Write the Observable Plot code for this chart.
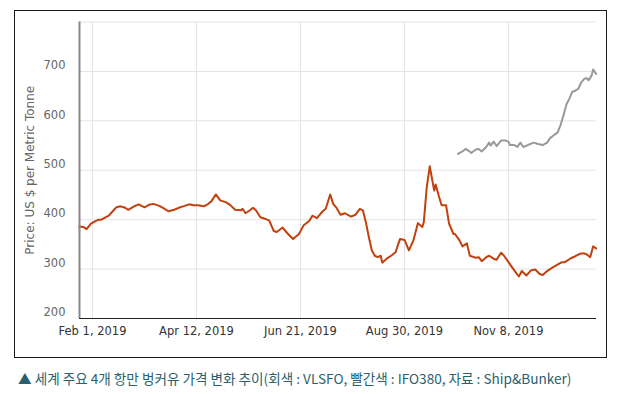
<!DOCTYPE html>
<html><head><meta charset="utf-8">
<script src="https://cdn.jsdelivr.net/npm/d3@7"></script>
<script src="https://cdn.jsdelivr.net/npm/@observablehq/plot@0.6"></script>
<style>
body{margin:0;background:#fff;width:625px;height:394px;overflow:hidden;position:relative;font-family:"DejaVu Sans",sans-serif}
#box{position:absolute;left:14px;top:10px;width:593px;height:348px;border:1.5px solid #1a1a1a;box-sizing:border-box}
#chart{position:absolute;left:0;top:0}
#cap{position:absolute;left:18px;top:368px;font:13.6px "Noto Sans CJK KR",sans-serif;color:#2a5f6e;white-space:nowrap}
</style></head><body>
<div id="box"></div><div id="chart"></div>
<div id="cap">▲ 세계 주요 4개 항만 벙커유 가격 변화 추이(회색 : VLSFO, 빨간색 : IFO380, 자료 : Ship&amp;Bunker)</div>
<script>
const yTitle = "Price: US $ per Metric Tonne";
const xTicks = ["2019-02-01","2019-04-12","2019-06-21","2019-08-30","2019-11-08"];
const xTickLabels = ["Feb 1, 2019","Apr 12, 2019","Jun 21, 2019","Aug 30, 2019","Nov 8, 2019"];
const yTicks = [200,300,400,500,600,700];
const yGrid = [200,300,400,500,600,700,800];

// IFO380 (red)
const redDates = ["2019-01-23","2019-01-26","2019-01-28","2019-01-31","2019-02-03","2019-02-05","2019-02-07","2019-02-10","2019-02-12","2019-02-14","2019-02-17","2019-02-20","2019-02-23","2019-02-25","2019-03-01","2019-03-04","2019-03-08","2019-03-11","2019-03-14","2019-03-18","2019-03-21","2019-03-24","2019-03-28","2019-03-31","2019-04-03","2019-04-07","2019-04-10","2019-04-13","2019-04-17","2019-04-20","2019-04-22","2019-04-25","2019-04-28","2019-05-02","2019-05-05","2019-05-08","2019-05-12","2019-05-13","2019-05-15","2019-05-18","2019-05-20","2019-05-22","2019-05-25","2019-05-28","2019-05-31","2019-06-03","2019-06-05","2019-06-09","2019-06-12","2019-06-16","2019-06-20","2019-06-23","2019-06-27","2019-06-29","2019-07-02","2019-07-06","2019-07-08","2019-07-11","2019-07-13","2019-07-15","2019-07-18","2019-07-21","2019-07-25","2019-07-28","2019-07-31","2019-08-02","2019-08-04","2019-08-06","2019-08-08","2019-08-10","2019-08-12","2019-08-14","2019-08-15","2019-08-18","2019-08-21","2019-08-24","2019-08-27","2019-08-30","2019-09-02","2019-09-05","2019-09-08","2019-09-11","2019-09-12","2019-09-14","2019-09-16","2019-09-19","2019-09-20","2019-09-22","2019-09-24","2019-09-27","2019-09-29","2019-10-02","2019-10-03","2019-10-06","2019-10-08","2019-10-11","2019-10-13","2019-10-17","2019-10-19","2019-10-21","2019-10-24","2019-10-26","2019-10-29","2019-10-31","2019-11-03","2019-11-05","2019-11-08","2019-11-12","2019-11-15","2019-11-17","2019-11-20","2019-11-23","2019-11-26","2019-11-29","2019-12-01","2019-12-04","2019-12-07","2019-12-11","2019-12-14","2019-12-16","2019-12-20","2019-12-23","2019-12-26","2019-12-29","2019-12-31","2020-01-02","2020-01-04","2020-01-06"];
const redValues = [386,385,381,392,397,400,400,405,408,415,425,427,424,420,427,431,425,430,432,428,423,417,420,424,427,431,429,429,427,432,437,451,439,435,429,420,419,422,413,419,424,419,405,402,398,377,375,384,373,361,371,388,398,408,403,417,422,451,432,425,410,413,406,410,422,419,395,365,338,327,324,327,313,321,327,334,361,359,338,358,393,385,395,466,508,459,471,449,429,429,392,371,371,358,346,352,327,323,324,316,324,327,321,319,333,327,314,297,285,296,287,297,299,290,288,296,302,309,314,314,322,326,331,332,329,324,346,342];

// VLSFO (gray)
const grayDates = ["2019-10-05","2019-10-08","2019-10-10","2019-10-12","2019-10-14","2019-10-17","2019-10-19","2019-10-21","2019-10-24","2019-10-26","2019-10-27","2019-10-29","2019-10-31","2019-11-03","2019-11-06","2019-11-08","2019-11-09","2019-11-12","2019-11-14","2019-11-16","2019-11-18","2019-11-21","2019-11-25","2019-11-28","2019-12-01","2019-12-04","2019-12-06","2019-12-09","2019-12-11","2019-12-13","2019-12-15","2019-12-17","2019-12-19","2019-12-21","2019-12-23","2019-12-25","2019-12-27","2019-12-29","2019-12-31","2020-01-01","2020-01-03","2020-01-04","2020-01-06"];
const grayValues = [533,538,543,540,535,542,543,538,547,556,550,558,549,560,560,558,551,551,547,556,547,551,556,553,551,556,565,572,576,591,611,633,645,659,661,665,678,685,686,682,692,704,695];

const parse = s => new Date(s + "T00:00:00Z");
const red = redDates.map((d, i) => ({date: parse(d), value: redValues[i]}));
const gray = grayDates.map((d, i) => ({date: parse(d), value: grayValues[i]}));
const x0 = new Date("2019-01-23T06:00:00Z"), x1 = new Date("2020-01-06T06:00:00Z");

const chart = Plot.plot({
  width: 625, height: 357,
  marginLeft: 79, marginRight: 29, marginTop: 21.5, marginBottom: 39,
  style: {fontFamily: "DejaVu Sans, sans-serif", fontSize: "11.5px", background: "transparent", overflow: "visible"},
  x: {type: "utc", domain: [x0, x1]},
  y: {domain: [200, 800]},
  marks: [
    Plot.gridY(yGrid, {stroke: "#e3e3e3", strokeOpacity: 1}),
    Plot.gridX(xTicks.map(parse), {stroke: "#e3e3e3", strokeOpacity: 1}),
    Plot.line(gray, {x: "date", y: "value", stroke: "#999999", strokeWidth: 2}),
    Plot.line(red, {x: "date", y: "value", stroke: "#c2400e", strokeWidth: 2}),
    Plot.ruleY([200], {stroke: "#222", strokeWidth: 1}),
    Plot.ruleX([x0], {stroke: "#888", strokeWidth: 2}),
    Plot.axisY(yTicks, {tickSize: 0, tickPadding: 14, dy: -6, fill: "#666", label: null, fontSize: 11.5}),
    Plot.axisX(xTicks.map(parse), {tickSize: 0, tickPadding: 8, tickFormat: (d, i) => xTickLabels[i], fill: "#333", label: null, fontSize: 11.5}),
    Plot.text([yTitle], {frameAnchor: "left", textAnchor: "middle", rotate: -90, dx: -49, fill: "#666", fontSize: 12})
  ]
});
document.getElementById("chart").appendChild(chart);
</script>
</body></html>
